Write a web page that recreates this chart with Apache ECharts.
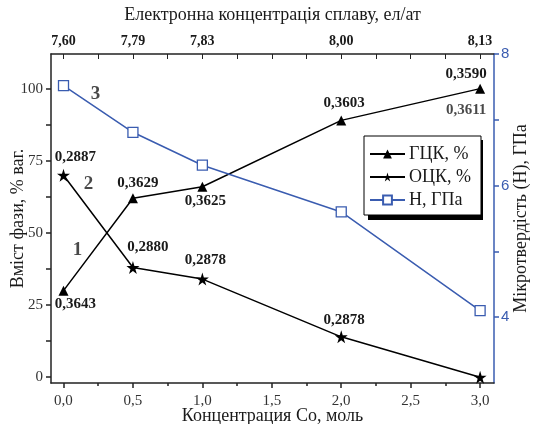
<!DOCTYPE html>
<html><head><meta charset="utf-8">
<script src="https://cdn.jsdelivr.net/npm/echarts@6/dist/echarts.min.js"></script>
<style>html,body{margin:0;padding:0;background:#fff}#c{width:534px;height:424px}</style>
</head><body><div id="c"></div>
<script>
// ---- data ----
const coConc = [0, 0.5, 1.0, 2.0, 3.0];
const fccPct = [30, 62, 66, 89, 100];          // ГЦК, %
const bccPct = [70, 38, 34, 14, 0];            // ОЦК, %
const hardness = [7.52, 6.81, 6.31, 5.60, 4.10]; // Н, ГПа
const fccLattice = ['0,3643', '0,3629', '0,3625', '0,3603', '0,3590'];
const fccLatticeExtra = ['0,3611'];            // second label at x = 3,0
const bccLattice = ['0,2887', '0,2880', '0,2878', '0,2878', ''];
const bottomTicks = [0, 0.5, 1.0, 1.5, 2.0, 2.5, 3.0];
const bottomMinor = [0.25, 0.75, 1.25, 1.75, 2.25, 2.75];
const topTickPos = [0, 0.5, 1.0, 2.0, 3.0];
const topTickLabels = ['7,60', '7,79', '7,83', '8,00', '8,13'];
const leftTicks = [0, 25, 50, 75, 100];
const leftMinor = [12.5, 37.5, 62.5, 87.5];
const rightTicks = [4, 6, 8];
const rightMinor = [5, 7];
const curveNames = ['1', '2', '3'];
const curveNamePos = [[0.1, 44], [0.18, 67], [0.23, 98]];

// ---- layout/styles ----
const fccPlace = [['bottom', [12, -4]], ['top', [5, 2]], ['bottom', [3, -3]], ['top', [3, 0]], ['top', [-14, 3]]];
const bccPlace = [['top', [12, 1]], ['top', [15, -1]], ['top', [3, 0]], ['top', [3, 2]], ['top', [0, 0]]];
const SERIF = '"Liberation Serif", "DejaVu Serif", serif';
const BLUE = '#3a5cb0';
const TXT = '#1a1a1a';
const starPath = 'path://M50,0 L61,35 L98,35 L68,57 L79,91 L50,70 L21,91 L32,57 L2,35 L39,35 Z';

const lblStyle = {fontFamily: SERIF, fontWeight: 'bold', fontSize: 15, color: TXT};

function mkData(ys, labels, place) {
  return coConc.map((x, i) => ({
    value: [x, ys[i]],
    label: {show: labels[i] !== '', formatter: labels[i], position: place[i][0], offset: place[i][1], ...lblStyle}
  }));
}

const chart = echarts.init(document.getElementById('c'), null, {renderer: 'canvas'});
const topMap = {};
topTickPos.forEach((p, i) => topMap[p.toFixed(2)] = topTickLabels[i]);
const allQuarter = bottomTicks.concat(bottomMinor).sort((a, b) => a - b);

chart.setOption({
  animation: false,
  backgroundColor: '#fff',
  grid: {left: 51, right: 40, top: 54, bottom: 41, outerBoundsMode: 'none', containLabel: false},
  graphic: [{
    type: 'rect', left: 368, top: 140, z: 3, silent: true,
    shape: {width: 115, height: 80}, style: {fill: '#000'}
  }],
  legend: {
    data: ['ГЦК, %', 'ОЦК, %', 'Н, ГПа'],
    orient: 'vertical', left: 364, top: 136, z: 5,
    padding: [9, 10, 6, 5], itemGap: 5, itemWidth: 35, itemHeight: 11,
    backgroundColor: '#fff', borderColor: '#000', borderWidth: 1,
    textStyle: {fontFamily: SERIF, fontSize: 18, color: TXT, padding: [0, 0, 0, -1]}
  },
  xAxis: [
    {
      type: 'value', position: 'bottom', min: -0.09, max: 3.1,
      name: 'Концентрация Со, моль', nameLocation: 'middle', nameGap: 24, nameMoveOverlap: false,
      nameTextStyle: {fontFamily: SERIF, fontSize: 18, color: TXT},
      axisLine: {show: true, onZero: false, lineStyle: {color: '#222', width: 1.5}},
      axisTick: {show: true, inside: false, length: 5, customValues: bottomTicks, lineStyle: {color: '#222', width: 1.5}},
      axisLabel: {customValues: bottomTicks, formatter: v => v.toFixed(1).replace('.', ','), fontFamily: SERIF, fontSize: 15, color: '#333', margin: 11},
      splitLine: {show: false}
    },
    {
      type: 'value', position: 'bottom', min: -0.09, max: 3.1,
      axisLine: {show: false, onZero: false},
      axisTick: {show: true, inside: false, length: 3, customValues: bottomMinor, lineStyle: {color: '#222', width: 1.5}},
      axisLabel: {show: false},
      splitLine: {show: false}
    },
    {
      type: 'value', position: 'top', min: -0.09, max: 3.1,
      name: 'Електронна концентрація сплаву, ел/ат', nameLocation: 'middle', nameGap: 30, nameMoveOverlap: false,
      nameTextStyle: {fontFamily: SERIF, fontSize: 18, color: TXT},
      axisLine: {show: true, onZero: false, lineStyle: {color: '#222', width: 1.5}},
      axisTick: {show: true, inside: true, length: 5, customValues: allQuarter, lineStyle: {color: '#222', width: 1}},
      axisLabel: {customValues: topTickPos, formatter: v => topMap[Number(v).toFixed(2)] || '', fontFamily: SERIF, fontWeight: 'bold', fontSize: 14, color: TXT, margin: 6},
      splitLine: {show: false}
    }
  ],
  yAxis: [
    {
      type: 'value', position: 'left', min: -2, max: 112,
      name: 'Вміст фази, % ваг.', nameLocation: 'middle', nameGap: 24, nameRotate: 90, nameMoveOverlap: false,
      nameTextStyle: {fontFamily: SERIF, fontSize: 18, color: TXT},
      axisLine: {show: true, onZero: false, lineStyle: {color: '#222', width: 1.5}},
      axisTick: {show: true, inside: false, length: 5, customValues: leftTicks.concat(leftMinor), lineStyle: {color: '#222', width: 1.5}},
      axisLabel: {customValues: leftTicks, fontFamily: SERIF, fontSize: 15, color: '#333', margin: 8},
      splitLine: {show: false}
    },
    {
      type: 'value', position: 'right', min: 3, max: 8,
      name: 'Мікротвердість (Н), ГПа', nameLocation: 'middle', nameGap: 18, nameRotate: 90, nameMoveOverlap: false,
      nameTextStyle: {fontFamily: SERIF, fontSize: 18, color: TXT},
      axisLine: {show: true, onZero: false, lineStyle: {color: BLUE, width: 1.5}},
      axisTick: {show: true, inside: false, length: 5, customValues: rightTicks.concat(rightMinor), lineStyle: {color: BLUE, width: 1.5}},
      axisLabel: {customValues: rightTicks, fontFamily: '"Liberation Sans", Arial, sans-serif', fontSize: 15, color: BLUE, margin: 7},
      splitLine: {show: false}
    }
  ],
  series: [
    {
      name: 'ГЦК, %', type: 'line', xAxisIndex: 0, yAxisIndex: 0,
      data: mkData(fccPct, fccLattice, fccPlace),
      symbol: 'triangle', symbolSize: 10, color: '#000',
      lineStyle: {color: '#000', width: 1.5}, itemStyle: {color: '#000'}, z: 3
    },
    {
      name: 'ОЦК, %', type: 'line', xAxisIndex: 0, yAxisIndex: 0,
      data: mkData(bccPct, bccLattice, bccPlace),
      symbol: starPath, symbolSize: 13, color: '#000',
      lineStyle: {color: '#000', width: 1.5}, itemStyle: {color: '#000'}, z: 3
    },
    {
      name: 'Н, ГПа', type: 'line', xAxisIndex: 0, yAxisIndex: 1,
      data: coConc.map((x, i) => [x, hardness[i]]),
      symbol: 'rect', symbolSize: 10, showAllSymbol: true, color: BLUE,
      lineStyle: {color: BLUE, width: 1.5},
      itemStyle: {color: '#fff', borderColor: BLUE, borderWidth: 1.3}, z: 3
    },
    {
      type: 'scatter', xAxisIndex: 0, yAxisIndex: 0, symbolSize: 0, silent: true,
      data: [{value: [coConc[4], fccPct[4]], label: {show: true, formatter: fccLatticeExtra[0], position: 'bottom', offset: [-14, 9], ...lblStyle}}]
    },
    {
      type: 'scatter', xAxisIndex: 0, yAxisIndex: 0, symbolSize: 0, silent: true,
      data: curveNamePos.map((p, i) => ({value: p, label: {show: true, formatter: curveNames[i], position: 'inside', fontFamily: SERIF, fontWeight: 'bold', fontSize: 19, color: TXT}}))
    }
  ]
});
</script></body></html>
